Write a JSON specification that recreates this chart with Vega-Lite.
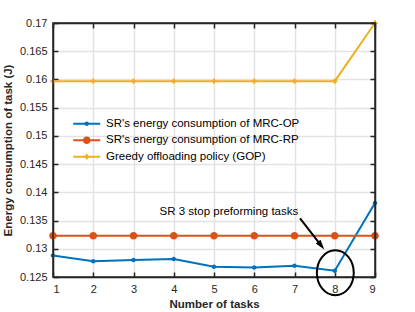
{
  "$schema": "https://vega.github.io/schema/vega-lite/v6.json",
  "autosize": {"type": "none"},
  "padding": {"left": 53, "top": 23, "right": 40, "bottom": 35},
  "width": 322,
  "height": 254,
  "config": {
    "view": {"stroke": null},
    "font": "Liberation Sans",
    "axis": {"labelFont": "Liberation Sans", "titleFont": "Liberation Sans", "labelColor": "#262626", "titleColor": "#262626", "domainColor": "#262626", "tickColor": "#262626", "domainWidth": 1.5, "tickWidth": 1.5, "tickSize": -5, "labelFontSize": 11, "titleFontSize": 11.5, "titleFontWeight": "bold", "gridColor": "#e3e3e3", "gridWidth": 1.5, "labelOverlap": false}
  },
  "data": {"values": [
    {"task": 1, "value": 0.1288, "series": "SR's energy consumption of MRC-OP"},
    {"task": 2, "value": 0.1278, "series": "SR's energy consumption of MRC-OP"},
    {"task": 3, "value": 0.1280, "series": "SR's energy consumption of MRC-OP"},
    {"task": 4, "value": 0.1282, "series": "SR's energy consumption of MRC-OP"},
    {"task": 5, "value": 0.1268, "series": "SR's energy consumption of MRC-OP"},
    {"task": 6, "value": 0.1267, "series": "SR's energy consumption of MRC-OP"},
    {"task": 7, "value": 0.1270, "series": "SR's energy consumption of MRC-OP"},
    {"task": 8, "value": 0.1261, "series": "SR's energy consumption of MRC-OP"},
    {"task": 9, "value": 0.1381, "series": "SR's energy consumption of MRC-OP"},
    {"task": 1, "value": 0.1323, "series": "SR's energy consumption of MRC-RP"},
    {"task": 2, "value": 0.1323, "series": "SR's energy consumption of MRC-RP"},
    {"task": 3, "value": 0.1323, "series": "SR's energy consumption of MRC-RP"},
    {"task": 4, "value": 0.1323, "series": "SR's energy consumption of MRC-RP"},
    {"task": 5, "value": 0.1323, "series": "SR's energy consumption of MRC-RP"},
    {"task": 6, "value": 0.1323, "series": "SR's energy consumption of MRC-RP"},
    {"task": 7, "value": 0.1323, "series": "SR's energy consumption of MRC-RP"},
    {"task": 8, "value": 0.1323, "series": "SR's energy consumption of MRC-RP"},
    {"task": 9, "value": 0.1323, "series": "SR's energy consumption of MRC-RP"},
    {"task": 1, "value": 0.1597, "series": "Greedy offloading policy (GOP)"},
    {"task": 2, "value": 0.1597, "series": "Greedy offloading policy (GOP)"},
    {"task": 3, "value": 0.1597, "series": "Greedy offloading policy (GOP)"},
    {"task": 4, "value": 0.1597, "series": "Greedy offloading policy (GOP)"},
    {"task": 5, "value": 0.1597, "series": "Greedy offloading policy (GOP)"},
    {"task": 6, "value": 0.1597, "series": "Greedy offloading policy (GOP)"},
    {"task": 7, "value": 0.1597, "series": "Greedy offloading policy (GOP)"},
    {"task": 8, "value": 0.1597, "series": "Greedy offloading policy (GOP)"},
    {"task": 9, "value": 0.1700, "series": "Greedy offloading policy (GOP)"}
  ]},
  "resolve": {"axis": {"x": "independent", "y": "independent"}},
  "layer": [
    {
      "mark": {"type": "line", "strokeWidth": 2},
      "encoding": {
        "x": {"field": "task", "type": "quantitative", "scale": {"domain": [1, 9], "nice": false, "zero": false},
              "axis": {"orient": "bottom", "title": "Number of tasks", "values": [1,2,3,4,5,6,7,8,9], "grid": true, "labelPadding": 11, "titlePadding": 4}},
        "y": {"field": "value", "type": "quantitative", "scale": {"domain": [0.125, 0.17], "nice": false, "zero": false},
              "axis": {"orient": "left", "title": "Energy consumption of task (J)", "values": [0.125,0.13,0.135,0.14,0.145,0.15,0.155,0.16,0.165,0.17], "format": ".3~f", "grid": true, "labelPadding": 11, "titlePadding": 6}},
        "stroke": {"field": "series", "type": "nominal",
                  "scale": {"domain": ["SR's energy consumption of MRC-OP", "SR's energy consumption of MRC-RP", "Greedy offloading policy (GOP)", "none"], "range": ["#0072BD", "#D95319", "#EDB120", "#ffffff"]},
                  "legend": {"orient": "none", "legendX": 28, "legendY": 95, "title": null, "padding": 0, "values": ["SR's energy consumption of MRC-OP", "SR's energy consumption of MRC-RP", "Greedy offloading policy (GOP)"], "symbolType": "M -3 0 L 3 0", "symbolSize": 81, "symbolStrokeWidth": 2, "labelFontSize": 11.5, "labelOffset": 13.5, "labelColor": "#000000", "labelLimit": 0, "rowPadding": 3.5}}
      }
    },
    {
      "mark": {"type": "point", "filled": true, "size": 81, "opacity": 1},
      "encoding": {
        "x": {"field": "task", "type": "quantitative", "axis": {"orient": "top", "labels": false, "title": null, "grid": false, "zindex": 1, "values": [1,2,3,4,5,6,7,8,9]}},
        "y": {"field": "value", "type": "quantitative", "axis": {"orient": "right", "labels": false, "title": null, "grid": false, "zindex": 1, "values": [0.125,0.13,0.135,0.14,0.145,0.15,0.155,0.16,0.165,0.17]}},
        "color": {"field": "series", "type": "nominal",
                  "scale": {"domain": ["SR's energy consumption of MRC-OP", "SR's energy consumption of MRC-RP", "Greedy offloading policy (GOP)"], "range": ["#0072BD", "#D95319", "#EDB120"]},
                  "legend": {"orient": "none", "legendX": 28, "legendY": 95, "title": null, "padding": 0, "symbolSize": 81, "symbolStrokeWidth": 0, "labelFontSize": 11.5, "labelOffset": 13.5, "labelOpacity": 0, "labelLimit": 0, "rowPadding": 3.5}},
        "shape": {"field": "series", "type": "nominal",
                  "scale": {"domain": ["SR's energy consumption of MRC-OP", "SR's energy consumption of MRC-RP", "Greedy offloading policy (GOP)"],
                            "range": ["M -0.5 0 A 0.5 0.5 0 1 0 0.5 0 A 0.5 0.5 0 1 0 -0.5 0", "M -0.85 0 A 0.85 0.85 0 1 0 0.85 0 A 0.85 0.85 0 1 0 -0.85 0", "M -0.6 -0.22 L -0.22 -0.22 L -0.22 -0.6 L 0.22 -0.6 L 0.22 -0.22 L 0.6 -0.22 L 0.6 0.22 L 0.22 0.22 L 0.22 0.6 L -0.22 0.6 L -0.22 0.22 L -0.6 0.22 Z"]},
                  "legend": {"orient": "none", "legendX": 28, "legendY": 95, "title": null, "padding": 0, "symbolSize": 81, "symbolStrokeWidth": 0, "labelFontSize": 11.5, "labelOffset": 13.5, "labelOpacity": 0, "labelLimit": 0, "rowPadding": 3.5}}
      }
    },
    {
      "data": {"values": [{"task": 1, "task2": 9, "value": 0.125, "value2": 0.17}]},
      "mark": {"type": "rect", "filled": false, "stroke": "#262626", "strokeWidth": 1.5},
      "encoding": {
        "x": {"field": "task", "type": "quantitative", "axis": null},
        "x2": {"field": "task2"},
        "y": {"field": "value", "type": "quantitative", "axis": null},
        "y2": {"field": "value2"}
      }
    },
    {
      "data": {"values": [{"task": 5.37, "value": 0.1365, "label": "SR 3 stop preforming tasks"}]},
      "mark": {"type": "text", "fontSize": 11.5, "font": "Liberation Sans", "color": "#000000", "align": "center", "baseline": "middle"},
      "encoding": {
        "x": {"field": "task", "type": "quantitative", "axis": null},
        "y": {"field": "value", "type": "quantitative", "axis": null},
        "text": {"field": "label"}
      }
    },
    {
      "data": {"values": [{"task": 7.138, "value": 0.13537, "task2": 7.664, "value2": 0.13056}]},
      "mark": {"type": "rule", "strokeWidth": 2, "color": "#000000"},
      "encoding": {
        "x": {"field": "task", "type": "quantitative", "axis": null},
        "y": {"field": "value", "type": "quantitative", "axis": null},
        "x2": {"field": "task2"},
        "y2": {"field": "value2"}
      }
    },
    {
      "data": {"values": [{"task": 7.664, "value": 0.13056}]},
      "mark": {"type": "point", "shape": "M 0 -1 L 0.6 1 L -0.6 1 Z", "size": 100, "filled": true, "color": "#000000", "opacity": 1, "angle": 142},
      "encoding": {
        "x": {"field": "task", "type": "quantitative", "axis": null},
        "y": {"field": "value", "type": "quantitative", "axis": null}
      }
    },
    {
      "data": {"values": [{"task": 8.014, "value": 0.12575}]},
      "mark": {"type": "point", "shape": "M -0.82 0 A 0.82 1 0 1 0 0.82 0 A 0.82 1 0 1 0 -0.82 0", "size": 2025, "filled": false, "color": "#000000", "strokeWidth": 2, "opacity": 1},
      "encoding": {
        "x": {"field": "task", "type": "quantitative", "axis": null},
        "y": {"field": "value", "type": "quantitative", "axis": null}
      }
    }
  ]
}
